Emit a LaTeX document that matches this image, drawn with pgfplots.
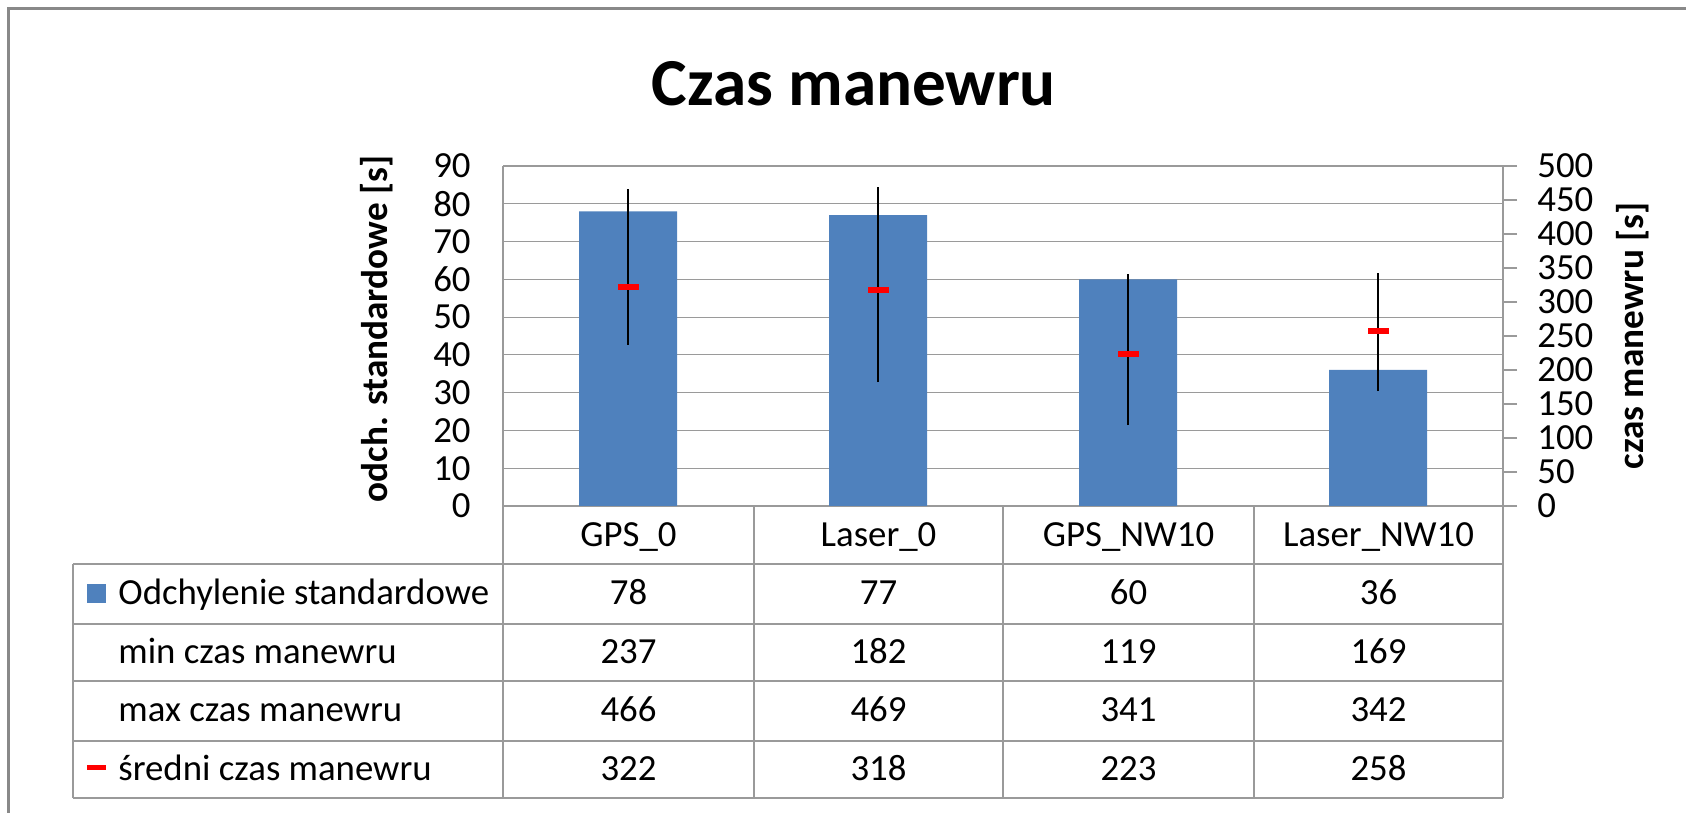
\documentclass[border=0pt]{standalone}
\usepackage{fontspec}
\setmainfont{Carlito}
\usepackage{pgfplots}
\pgfplotsset{compat=1.18}
\definecolor{barblue}{HTML}{4F81BD}
\definecolor{gridgray}{HTML}{9A9A9A}
\definecolor{framegray}{HTML}{898989}
\newcommand{\tfont}{\fontsize{18.4}{20}\selectfont}
\begin{document}
\begin{tikzpicture}
\path[use as bounding box] (0,0) rectangle (843pt,406.5pt);
\begin{scope}[x=0.5pt,y=-0.5pt,yshift=406.5pt]
\draw[framegray, line width=1.5pt] (8,813) -- (8,9) -- (1686,9);
\node[font=\bfseries\fontsize{33.6}{38}\selectfont, inner sep=0pt] at (854,83.5) {Czas manewru};
% data table
\foreach \yy in {564,624,681,741,798} \draw[gridgray, line width=1pt] (73,\yy) -- (1503,\yy);
\draw[gridgray, line width=1pt] (73,564) -- (73,798);
\foreach \xx in {503,754,1003,1254,1503} \draw[gridgray, line width=1pt] (\xx,506) -- (\xx,798);
\foreach \lab [count=\i from 0] in {GPS\_0,Laser\_0,GPS\_NW10,Laser\_NW10}
  \node[font=\tfont, anchor=base, inner sep=0pt] at (628.5+250*\i,547) {\lab};
\fill[barblue] (87,584) rectangle (106,603);
\fill[red] (87,765) rectangle (106,770);
\node[font=\tfont, anchor=base west, inner sep=0pt] at (118,605) {Odchylenie standardowe};
\node[font=\tfont, anchor=base west, inner sep=0pt] at (118,663.5) {min czas manewru};
\node[font=\tfont, anchor=base west, inner sep=0pt] at (118,722) {max czas manewru};
\node[font=\tfont, anchor=base west, inner sep=0pt] at (118,780.5) {średni czas manewru};
\foreach \v [count=\i from 0] in {78,77,60,36}
  \node[font=\tfont, anchor=base, inner sep=0pt] at (628.5+250*\i,605) {\v};
\foreach \v [count=\i from 0] in {237,182,119,169}
  \node[font=\tfont, anchor=base, inner sep=0pt] at (628.5+250*\i,663.5) {\v};
\foreach \v [count=\i from 0] in {466,469,341,342}
  \node[font=\tfont, anchor=base, inner sep=0pt] at (628.5+250*\i,722) {\v};
\foreach \v [count=\i from 0] in {322,318,223,258}
  \node[font=\tfont, anchor=base, inner sep=0pt] at (628.5+250*\i,780.5) {\v};
\end{scope}

\begin{axis}[
  scale only axis, width=500pt, height=170pt,
  at={(251.5pt,153.5pt)}, anchor=south west,
  xmin=-0.5, xmax=3.5, ymin=0, ymax=90,
  ytick={0,10,...,90}, xtick=\empty,
  ymajorgrids, grid style={gridgray, line width=0.6pt},
  axis line style={gridgray, line width=0.6pt},
  major tick length=0pt,
  axis x line*=bottom, axis y line*=left,
  /pgf/number format/assume math mode=true,
  yticklabel style={font=\tfont, inner sep=0pt, anchor=east, xshift=-16pt},
  ylabel={odch. standardowe [s]},
  ylabel style={font=\bfseries\fontsize{18.6}{20}\selectfont, at={(axis description cs:-0.126,0.52)}, anchor=center, rotate=0},
]
\addplot[ybar, bar width=49pt, fill=barblue, draw=none] coordinates {(0,78) (1,77) (2,60) (3,36)};
\end{axis}

\begin{axis}[
  scale only axis, width=500pt, height=170pt,
  at={(251.5pt,153.5pt)}, anchor=south west,
  xmin=-0.5, xmax=3.5, ymin=0, ymax=500,
  ytick={0,50,...,500},
  axis y line*=right, axis x line=none,
  tick align=outside, major tick length=7pt,
  ytick style={gridgray, line width=0.6pt},
  axis line style={gridgray, line width=0.6pt},
  /pgf/number format/assume math mode=true,
  yticklabel style={font=\tfont, inner sep=0pt, anchor=west, xshift=10pt},
  ylabel={czas manewru [s]},
  ylabel style={font=\bfseries\fontsize{18.6}{20}\selectfont, at={(axis description cs:1.13,0.5)}, anchor=center, rotate=0},
  unbounded coords=jump,
]
\addplot[black, line width=1pt] coordinates {(0,237) (0,466) (0,nan) (1,182) (1,469) (1,nan) (2,119) (2,341) (2,nan) (3,169) (3,342)};
\addplot[only marks, red, mark=-, mark size=5.25pt, mark options={line width=3pt}] coordinates {(0,322) (1,318) (2,223) (3,258)};
\end{axis}
\end{tikzpicture}
\end{document}
